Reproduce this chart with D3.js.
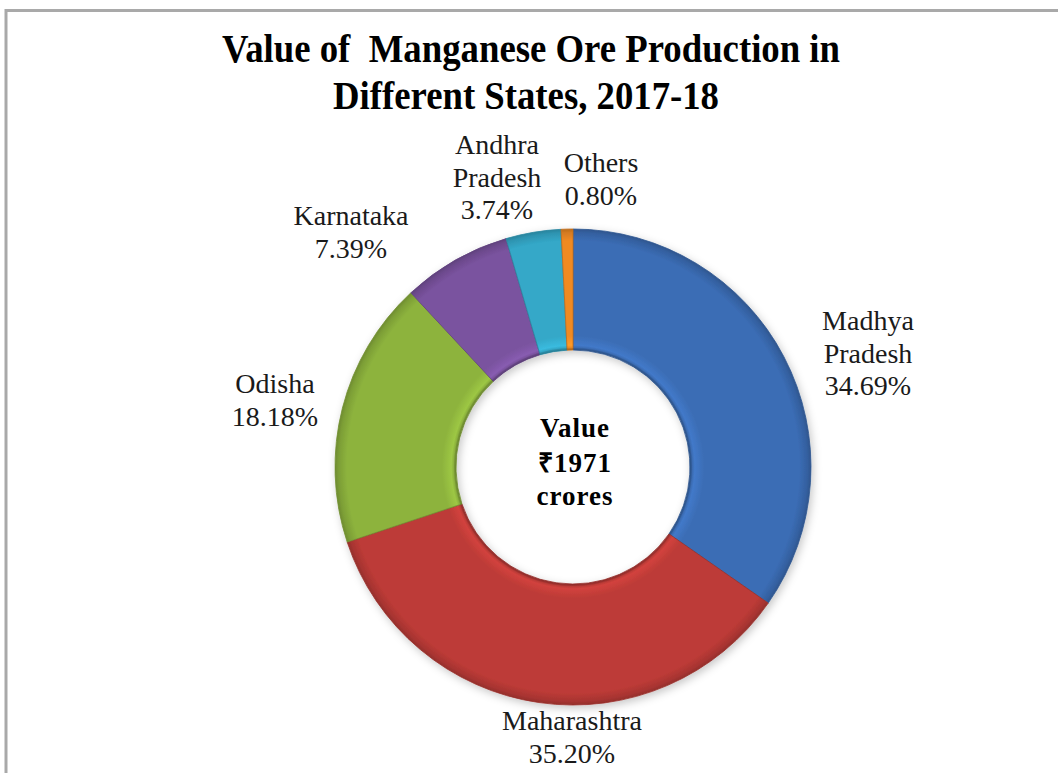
<!DOCTYPE html>
<html>
<head>
<meta charset="utf-8">
<script src="https://cdn.jsdelivr.net/npm/d3@7"></script>
<style>
  html, body { margin: 0; padding: 0; background: #ffffff; }
  svg { display: block; }
</style>
</head>
<body>
<svg id="chart" width="1058" height="773"></svg>
<script>
// ---- Data ----
const states = ["Madhya Pradesh", "Maharashtra", "Odisha", "Karnataka", "Andhra Pradesh", "Others"];
const shares = [34.69, 35.20, 18.18, 7.39, 3.74, 0.80];
const labelNames = [["Madhya", "Pradesh"], ["Maharashtra"], ["Odisha"], ["Karnataka"], ["Andhra", "Pradesh"], ["Others"]];
const titleLines = ["Value of  Manganese Ore Production in", "Different States, 2017-18"];
const centerLines = ["Value", "\u20B91971", "crores"];

// ---- Styling / layout ----
const colors = ["#3b6db5", "#bd3b37", "#8db33d", "#7a539f", "#34a8c8", "#f08a24"];
const W = 1058, H = 773;
const cx = 573, cy = 467, outerR = 238, innerR = 117;
// label anchor (first baseline) offsets from center
const labelOffsets = [[295, -137], [-1, 263], [-298, -74], [-222, -242], [-76, -313], [28, -295]];
const lineH = 32.5;

const svg = d3.select("#chart");
const defs = svg.append("defs");

// frame
svg.append("rect")
  .attr("x", 6).attr("y", 10.5)
  .attr("width", W + 20).attr("height", H + 20)
  .attr("fill", "#ffffff")
  .attr("stroke", "#a9a9a9").attr("stroke-width", 3);

// title
const titleY = [62, 109];
const titleLen = [618, 386];
const titleCx = [531, 526];
svg.selectAll("text.title").data(titleLines).join("text")
  .attr("class", "title")
  .attr("x", (d, i) => titleCx[i] - titleLen[i] / 2)
  .attr("y", (d, i) => titleY[i])
  .attr("textLength", (d, i) => titleLen[i])
  .attr("lengthAdjust", "spacingAndGlyphs")
  .attr("font-family", "'Liberation Serif', 'Times New Roman', serif")
  .attr("font-weight", "bold")
  .attr("font-size", 40)
  .attr("fill", "#000")
  .style("white-space", "pre")
  .text(d => d);

// shadow filter
const f = defs.append("filter").attr("id", "shadow")
  .attr("x", "-20%").attr("y", "-20%").attr("width", "140%").attr("height", "140%");
f.append("feDropShadow").attr("dx", 2).attr("dy", 3).attr("stdDeviation", 4)
  .attr("flood-color", "#000").attr("flood-opacity", 0.22);

// gradients for bevel (in the translated group's user space, center at 0,0)
const ri = innerR / outerR;
colors.forEach((c, i) => {
  const gr = defs.append("radialGradient").attr("id", "grad" + i)
    .attr("gradientUnits", "userSpaceOnUse")
    .attr("cx", 0).attr("cy", 0).attr("r", outerR);
  const base = d3.color(c);
  const stops = [
    [ri, base.darker(0.45)],
    [ri + 0.02, base.brighter(0.3)],
    [ri + 0.06, base],
    [0.95, base],
    [0.985, base.darker(0.35)],
    [1, base.darker(0.7)]
  ];
  stops.forEach(([o, col]) => gr.append("stop").attr("offset", o).attr("stop-color", col.formatHex()));
});

// pie
const pie = d3.pie().sort(null).value(d => d)(shares);
const arc = d3.arc().innerRadius(innerR).outerRadius(outerR);

const g = svg.append("g").attr("transform", `translate(${cx},${cy})`);
const ring = g.append("g").attr("filter", "url(#shadow)");
ring.selectAll("path").data(pie).join("path")
  .attr("d", arc)
  .attr("fill", (d, i) => `url(#grad${i})`)
  .attr("stroke", (d, i) => d3.color(colors[i]).darker(0.6).formatHex())
  .attr("stroke-width", 0.8);

// inner hole soft rim
g.append("circle").attr("r", innerR + 1)
  .attr("fill", "none")
  .attr("stroke", "rgba(0,0,0,0.10)").attr("stroke-width", 2);

// labels
const labelFont = "'Liberation Serif', 'Times New Roman', serif";
pie.forEach((p, i) => {
  const lines = labelNames[i].concat([d3.format(".2f")(shares[i]) + "%"]);
  const t = g.append("text")
    .attr("text-anchor", "middle")
    .attr("font-family", labelFont)
    .attr("font-size", 28)
    .attr("fill", "#1a1a1a");
  lines.forEach((ln, k) => {
    t.append("tspan")
      .attr("x", labelOffsets[i][0])
      .attr("y", labelOffsets[i][1] + k * lineH)
      .text(ln);
  });
});

// center text
const ct = g.append("text")
  .attr("text-anchor", "middle")
  .attr("font-family", labelFont)
  .attr("font-weight", "bold")
  .attr("font-size", 27)
  .attr("letter-spacing", 1)
  .attr("fill", "#000");
const centerY = [-30, 5, 38];
centerLines.forEach((ln, k) => {
  ct.append("tspan").attr("x", 2).attr("y", centerY[k]).text(ln);
});
</script>
</body>
</html>
